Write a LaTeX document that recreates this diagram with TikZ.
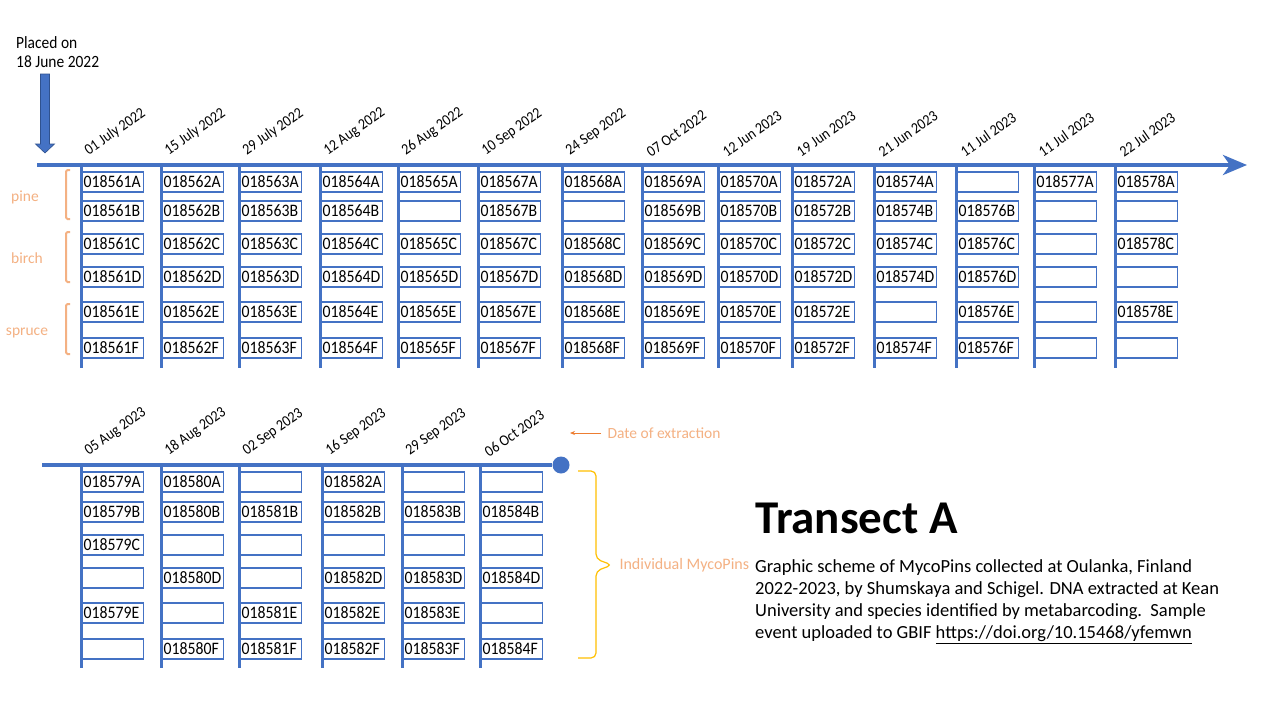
\documentclass[tikz,border=0pt]{standalone}
\usepackage{fontspec}
\setmainfont{Carlito}
\newfontfamily\narrowfont[FakeStretch=0.9]{Carlito}
\usetikzlibrary{arrows.meta}
\definecolor{pinblue}{HTML}{4472C4}
\definecolor{pinedge}{HTML}{2F528F}
\definecolor{peach}{HTML}{F4B183}
\definecolor{darkpeach}{HTML}{ED7D31}
\definecolor{gold}{HTML}{FFC000}
\tikzset{
	pin/.style={draw=pinblue,line width=1.2pt,anchor=west,minimum height=20pt,text width=59pt,inner xsep=1pt,inner ysep=0pt,align=left,font=\narrowfont\fontsize{17.5}{19}\selectfont},
	date/.style={rotate=35,anchor=south west,inner sep=1pt,font=\narrowfont\fontsize{15.5}{17}\selectfont},
	stem/.style={pinblue,line width=3pt},
	axis/.style={pinblue,line width=4pt},
	tree/.style={peach,font=\fontsize{15.5}{17}\selectfont},
	bracket/.style={peach,line width=2pt,rounded corners=1.5pt}
}

\begin{document}
\begin{tikzpicture}[x=1pt,y=-1pt]
	\useasboundingbox (0,0) rectangle (1280,720);
	\fill [white] (0,0) rectangle (1280,720);

	% placed on
	\node [anchor=west,align=left,inner sep=0pt,font=\narrowfont\fontsize{17.2}{18.5}\selectfont] (placed) at (16,52) {Placed on\\18 June 2022};
	\fill [pinblue,draw=pinedge,line width=0.6pt] (40.5,74) -- (49.5,74) -- (49.5,144) -- (54.5,144) -- (45,153) -- (35.5,144) -- (40.5,144) -- cycle;

	% top timeline
	\coordinate (t0) at (37,165);
	\coordinate (t1) at (1247,165);
	\draw [axis,-{Stealth[length=24pt,width=20pt,inset=7pt]}] (t0) -- (t1);

	\node [tree] (pine) at (25,197) {pine};
	\node [tree] (birch) at (27,258) {birch};
	\node [tree] (spruce) at (27,333) {spruce};
	\draw [bracket] (70,170) -- (66,170) -- (66,219) -- (70,219);
	\draw [bracket] (70,232) -- (66,232) -- (66,282) -- (70,282);
	\draw [bracket] (70,304) -- (66,304) -- (66,354) -- (70,354);

	\foreach \x/\d/\a/\b/\c/\e/\f/\g [count=\i] in {
		81/01 July 2022/018561A/018561B/018561C/018561D/018561E/018561F,
		161/15 July 2022/018562A/018562B/018562C/018562D/018562E/018562F,
		239/29 July 2022/018563A/018563B/018563C/018563D/018563E/018563F,
		320/12 Aug 2022/018564A/018564B/018564C/018564D/018564E/018564F,
		398/26 Aug 2022/018565A/{}/018565C/018565D/018565E/018565F,
		478/10 Sep 2022/018567A/018567B/018567C/018567D/018567E/018567F,
		562/24 Sep 2022/018568A/{}/018568C/018568D/018568E/018568F,
		642/07 Oct 2022/018569A/018569B/018569C/018569D/018569E/018569F,
		718/12 Jun 2023/018570A/018570B/018570C/018570D/018570E/018570F,
		792/19 Jun 2023/018572A/018572B/018572C/018572D/018572E/018572F,
		874/21 Jun 2023/018574A/018574B/018574C/018574D/{}/018574F,
		956/11 Jul 2023/{}/018576B/018576C/018576D/018576E/018576F,
		1034/11 Jul 2023/018577A/{}/{}/{}/{}/{},
		1115/22 Jul 2023/018578A/{}/018578C/{}/018578E/{}}{
		\draw [stem] (\x,165) -- (\x,368);
		\node [date] (td\i) at (\x+9,159) {\d};
		\foreach \s/\y/\r in {\a/182/A,\b/211/B,\c/244/C,\e/277/D,\f/312/E,\g/348/F}
			\node [pin] (t\i\r) at (\x+1,\y) {\s};
	}

	% bottom timeline
	\coordinate (b0) at (42,465);
	\node [circle,fill=pinblue,minimum size=17pt,inner sep=0pt] (bend) at (561,465) {};
	\draw [axis] (b0) -- (bend);

	\foreach \x/\d/\a/\b/\c/\e/\f/\g [count=\i] in {
		81/05 Aug 2023/018579A/018579B/018579C/{}/018579E/{},
		161/18 Aug 2023/018580A/018580B/{}/018580D/{}/018580F,
		239/02 Sep 2023/{}/018581B/{}/{}/018581E/018581F,
		322/16 Sep 2023/018582A/018582B/{}/018582D/018582E/018582F,
		402/29 Sep 2023/{}/018583B/{}/018583D/018583E/018583F,
		480/06 Oct 2023/{}/018584B/{}/018584D/{}/018584F}{
		\draw [stem] (\x,465) -- (\x,668);
		\node [date] (bd\i) at (\x+9,459) {\d};
		\foreach \s/\y/\r in {\a/482/A,\b/512/B,\c/545/C,\e/578/D,\f/613/E,\g/649/F}
			\node [pin] (b\i\r) at (\x+1,\y) {\s};
	}

	% notes
	\node [tree,anchor=west] (extract) at (604,433) {Date of extraction};
	\coordinate (extracttip) at (570,433);
	\draw [darkpeach,line width=0.8pt,-{Stealth[length=5pt,width=4pt]},shorten <=3pt] (extract.west) -- (extracttip);

	\draw [gold,line width=1.2pt,rounded corners=5pt] (578,471) -- (596,471) -- (596,559) -- (612,565) -- (596,571) -- (596,658) -- (578,658);
	\node [tree,anchor=west,font=\fontsize{16}{18}\selectfont] (mycopins) at (616,565) {Individual MycoPins};

	\node [anchor=base west,inner sep=0pt,font=\fontsize{47}{50}\selectfont\bfseries] (title) at (755,533) {Transect A};
	\node [anchor=north west,inner sep=0pt,align=left,font=\fontsize{18.5}{22.3}\selectfont] (caption) at (755,559) {Graphic scheme of MycoPins collected at Oulanka, Finland\\
		2022-2023, by Shumskaya and Schigel. DNA extracted at Kean\\
		University and species identified by metabarcoding.\ \ Sample\\
		event uploaded to GBIF \underline{https://doi.org/10.15468/yfemwn}};
\end{tikzpicture}
\end{document}
